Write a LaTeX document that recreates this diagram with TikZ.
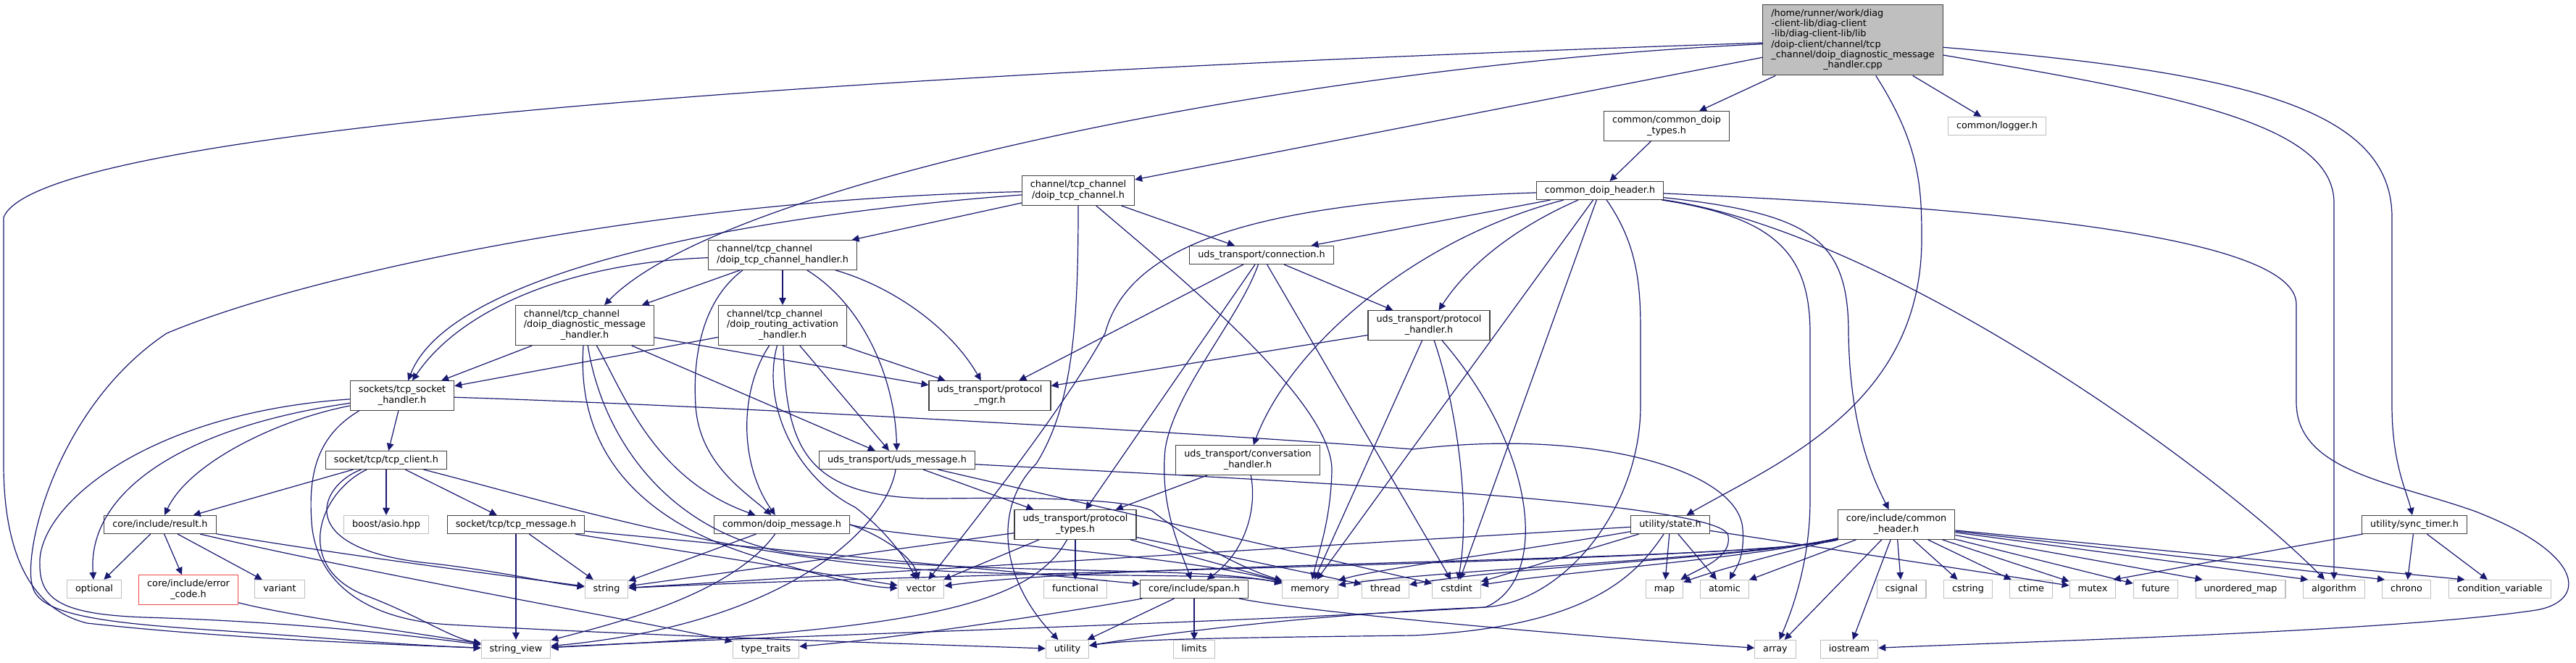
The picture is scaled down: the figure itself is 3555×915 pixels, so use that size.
\documentclass[tikz,border=0pt]{standalone}
\usepackage{fontspec}
\setmainfont{DejaVu Sans}
\usetikzlibrary{arrows.meta}

\definecolor{edgeblue}{HTML}{191970}
\definecolor{boxgray}{HTML}{BFBFBF}
\definecolor{boxdark}{HTML}{404040}
\definecolor{boxred}{HTML}{F04848}
\newcommand{\dxfont}{\fontsize{6.4}{7.15}\selectfont}
\newcommand{\ml}[2]{\begin{tabular}{@{}l@{}}#1\\\multicolumn{1}{@{}c@{}}{#2}\end{tabular}}

\tikzset{
  dxbox/.style={draw=boxdark,fill=white,line width=0.55pt,inner xsep=5.75pt,inner ysep=3pt,minimum height=12.5pt,font=\dxfont},
  hdr/.style={dxbox,text height=4.9pt,text depth=1.5pt},
  hdrml/.style={dxbox},
  sys/.style={hdr,draw=boxgray},
  rootf/.style={dxbox,fill=boxgray},
  trunc/.style={dxbox,draw=boxred},
  incl/.style={draw=edgeblue,line width=0.6pt,-{Triangle[length=5pt,width=4.8pt]}}
}

\begin{document}
\begin{tikzpicture}[x=0.5pt,y=-0.5pt]
\useasboundingbox (0,0) rectangle (3555,915);

% files
\node[rootf] (root) at (2557,55) {\begin{tabular}{@{}l@{}}/home/runner/work/diag\\-client-lib/diag-client\\-lib/diag-client-lib/lib\\/doip-client/channel/tcp\\\_channel/doip\_diagnostic\_message\\\multicolumn{1}{@{}c@{}}{\_handler.cpp}\end{tabular}};
\node[sys] (logger) at (2756,174) {common/logger.h};
\node[hdrml] (dtypes) at (2300,174) {\ml{common/common\_doip}{\_types.h}};
\node[hdr] (dheader) at (2208,263) {common\_doip\_header.h};
\node[hdrml] (tcpch) at (1488,263) {\ml{channel/tcp\_channel}{/doip\_tcp\_channel.h}};
\node[hdr] (conn) at (1741,352) {uds\_transport/connection.h};
\node[hdrml] (phandler) at (1972,449) {\ml{uds\_transport/protocol}{\_handler.h}};
\node[hdrml] (chhandler) at (1080,352) {\ml{channel/tcp\_channel}{/doip\_tcp\_channel\_handler.h}};
\node[hdrml] (diag) at (807,449) {\ml{channel/tcp\_channel\\/doip\_diagnostic\_message}{\_handler.h}};
\node[hdrml] (routing) at (1080,449) {\ml{channel/tcp\_channel\\/doip\_routing\_activation}{\_handler.h}};
\node[hdrml] (sockh) at (555,546) {\ml{sockets/tcp\_socket}{\_handler.h}};
\node[hdrml] (pmgr) at (1366,546) {\ml{uds\_transport/protocol}{\_mgr.h}};
\node[hdr] (tcpclient) at (533,635) {socket/tcp/tcp\_client.h};
\node[hdr] (udsmsg) at (1238,635) {uds\_transport/uds\_message.h};
\node[hdrml] (conv) at (1722,635) {\ml{uds\_transport/conversation}{\_handler.h}};
\node[hdr] (result) at (221,724) {core/include/result.h};
\node[sys] (asio) at (533,724) {boost/asio.hpp};
\node[hdr] (tcpmsg) at (712,724) {socket/tcp/tcp\_message.h};
\node[hdr] (doipmsg) at (1079,724) {common/doip\_message.h};
\node[hdrml] (ptypes) at (1484,724) {\ml{uds\_transport/protocol}{\_types.h}};
\node[hdr] (state) at (2305,724) {utility/state.h};
\node[hdrml] (cheader) at (2617,724) {\ml{core/include/common}{\_header.h}};
\node[hdr] (synctimer) at (3332,724) {utility/sync\_timer.h};

\node[sys] (optional) at (130,813) {optional};
\node[trunc] (errcode) at (260,814) {\ml{core/include/error}{\_code.h}};
\node[sys] (variant) at (386,813) {variant};
\node[sys] (string) at (837,813) {string};
\node[sys] (vector) at (1271,813) {vector};
\node[sys] (functional) at (1484,813) {functional};
\node[hdr] (span) at (1648,813) {core/include/span.h};
\node[sys] (memory) at (1808,813) {memory};
\node[sys] (thread) at (1912,813) {thread};
\node[sys] (cstdint) at (2010,813) {cstdint};
\node[sys] (map) at (2297,813) {map};
\node[sys] (atomic) at (2380,813) {atomic};
\node[sys] (csignal) at (2624,813) {csignal};
\node[sys] (cstring) at (2716,813) {cstring};
\node[sys] (ctime) at (2803,813) {ctime};
\node[sys] (mutex) at (2888,813) {mutex};
\node[sys] (future) at (2975,813) {future};
\node[sys] (umap) at (3092,813) {unordered\_map};
\node[sys] (algorithm) at (3221,813) {algorithm};
\node[sys] (chrono) at (3321,813) {chrono};
\node[sys] (condvar) at (3450,813) {condition\_variable};

\node[sys] (strview) at (712,896) {string\_view};
\node[sys] (typetraits) at (1057,896) {type\_traits};
\node[sys] (utility) at (1473,896) {utility};
\node[sys] (limits) at (1648,896) {limits};
\node[sys] (array) at (2450,896) {array};
\node[sys] (iostream) at (2552,896) {iostream};

% includes of the .cpp
\draw[incl] (root) -- (logger);
\draw[incl] (root) -- (dtypes);
\draw[incl] (root) -- (tcpch);
\draw[incl] (root) .. controls (1800,90) and (1000,250) .. (diag);
\draw[incl] (root) .. controls (2650,200) and (2652,260) .. (2652,330) .. controls (2652,560) and (2450,640) .. (state);
\draw[incl] (root) .. controls (3100,100) and (3301,150) .. (3301,300) -- (3301,560) .. controls (3301,640) and (3322,680) .. (synctimer);
\draw[incl] (root) .. controls (3000,130) and (3221,170) .. (3221,280) -- (algorithm);
\draw[incl] (root) .. controls (1500,90) and (60,160) .. (5,300) -- (5,640) .. controls (5,760) and (40,840) .. (120,860) .. controls (300,880) and (500,888) .. (strview);

% common headers
\draw[incl] (dtypes) -- (dheader);
\draw[incl] (dheader) -- (conn);
\draw[incl] (dheader) .. controls (2100,310) and (2030,360) .. (phandler);
\draw[incl] (dheader) .. controls (1950,330) and (1780,480) .. (conv);
\draw[incl] (dheader) .. controls (1750,278) and (1560,330) .. (1525,460) .. controls (1470,560) and (1360,700) .. (vector);
\draw[incl] (dheader) -- (memory);
\draw[incl] (dheader) -- (cstdint);
\draw[incl] (dheader) .. controls (2262,340) and (2264,400) .. (2264,460) -- (2264,560) .. controls (2264,700) and (2160,830) .. (2050,838) .. controls (1800,848) and (1580,878) .. (utility);
\draw[incl] (dheader) .. controls (2450,300) and (2498,350) .. (2498,460) -- (2498,690) .. controls (2498,780) and (2470,850) .. (array);
\draw[incl] (dheader) .. controls (2500,295) and (2551,330) .. (2551,460) .. controls (2553,600) and (2590,670) .. (cheader);
\draw[incl] (dheader) .. controls (2600,320) and (3050,640) .. (algorithm);
\draw[incl] (dheader) .. controls (2700,285) and (3169,320) .. (3169,420) -- (3169,555) .. controls (3169,650) and (3300,665) .. (3414,705) .. controls (3570,765) and (3570,830) .. (3500,842) .. controls (3300,872) and (2800,885) .. (iostream);

% tcp channel
\draw[incl] (tcpch) -- (chhandler);
\draw[incl] (tcpch) -- (conn);
\draw[incl] (tcpch) .. controls (1000,300) and (620,380) .. (sockh);
\draw[incl] (tcpch) .. controls (900,275) and (420,380) .. (230,460) .. controls (80,560) and (30,760) .. (45,810) .. controls (55,850) and (150,860) .. (300,870) .. controls (450,880) and (550,890) .. (strview);
\draw[incl] (tcpch) .. controls (1488,450) and (1480,560) .. (1430,640) .. controls (1370,700) and (1380,800) .. (utility);
\draw[incl] (tcpch) .. controls (1650,400) and (1840,560) .. (1838,650) .. controls (1836,720) and (1820,760) .. (memory);

% uds transport
\draw[incl] (conn) -- (pmgr);
\draw[incl] (conn) -- (ptypes);
\draw[incl] (conn) .. controls (1710,440) and (1620,540) .. (1608,620) .. controls (1600,700) and (1630,760) .. (span);
\draw[incl] (conn) -- (cstdint);
\draw[incl] (conn) -- (phandler);
\draw[incl] (phandler) -- (pmgr);
\draw[incl] (phandler) -- (memory);
\draw[incl] (phandler) .. controls (2010,560) and (2030,700) .. (cstdint);
\draw[incl] (phandler) .. controls (2120,620) and (2140,800) .. (2050,838) .. controls (1700,860) and (1000,880) .. (strview);

% channel handlers
\draw[incl] (chhandler) .. controls (800,362) and (640,420) .. (sockh);
\draw[incl] (chhandler) -- (diag);
\draw[incl] (chhandler) -- (routing);
\draw[incl] ([xshift=24pt]chhandler.south west) .. controls (975,410) and (955,480) .. (960,560) .. controls (965,640) and (1030,680) .. (doipmsg);
\draw[incl] (chhandler) .. controls (1190,420) and (1235,520) .. (udsmsg);
\draw[incl] (chhandler) .. controls (1230,395) and (1310,450) .. (pmgr);
\draw[incl] (diag) -- (sockh);
\draw[incl] (diag) .. controls (860,540) and (900,660) .. (doipmsg);
\draw[incl] (diag) -- (udsmsg);
\draw[incl] (diag) -- (pmgr);
\draw[incl] (diag) .. controls (795,620) and (880,720) .. (1050,770) .. controls (1150,800) and (1200,810) .. (vector);
\draw[incl] (diag) .. controls (830,600) and (920,740) .. (1100,765) .. controls (1350,795) and (1650,780) .. (memory);
\draw[incl] (routing) -- (sockh);
\draw[incl] (routing) .. controls (1020,540) and (1020,640) .. (doipmsg);
\draw[incl] (routing) .. controls (1050,560) and (1100,660) .. (1180,700) .. controls (1220,730) and (1250,770) .. (vector);
\draw[incl] (routing) .. controls (1085,620) and (1110,690) .. (1300,688) .. controls (1450,686) and (1560,690) .. (1590,705) .. controls (1620,730) and (1700,780) .. (memory);
\draw[incl] (routing) -- (udsmsg);
\draw[incl] (routing) -- (pmgr);

% sockets
\draw[incl] (sockh) -- (tcpclient);
\draw[incl] (sockh) .. controls (380,580) and (260,640) .. (result);
\draw[incl] (sockh) .. controls (250,590) and (120,680) .. (optional);
\draw[incl] (sockh) .. controls (200,570) and (50,700) .. (55,780) .. controls (55,830) and (90,848) .. (200,852) .. controls (400,858) and (550,875) .. (strview);
\draw[incl] (sockh) .. controls (1000,560) and (1700,600) .. (1950,620) .. controls (2200,590) and (2400,650) .. (2405,730) .. controls (2408,770) and (2395,785) .. (atomic);
\draw[incl] ([xshift=6.5pt]sockh.south west) .. controls (440,600) and (425,650) .. (430,720) .. controls (435,800) and (500,855) .. (620,862) .. controls (900,878) and (1300,890) .. (utility);
\draw[incl] (tcpclient) -- (result);
\draw[incl] (tcpclient) -- (asio);
\draw[incl] (tcpclient) -- (tcpmsg);
\draw[incl] (tcpclient) .. controls (440,670) and (400,760) .. (600,778) .. controls (700,790) and (760,805) .. (string);
\draw[incl] (tcpclient) .. controls (440,680) and (405,780) .. (500,820) .. controls (580,850) and (620,880) .. (strview);
\draw[incl] (tcpclient) .. controls (750,690) and (1000,770) .. (1300,788) .. controls (1500,798) and (1700,790) .. (memory);
\draw[incl] (tcpmsg) -- (strview);
\draw[incl] (tcpmsg) -- (string);
\draw[incl] (tcpmsg) -- (span);
\draw[incl] (tcpmsg) -- (vector);

% messages and types
\draw[incl] (doipmsg) -- (string);
\draw[incl] (doipmsg) .. controls (1010,820) and (850,860) .. (strview);
\draw[incl] (doipmsg.east) .. controls (1220,740) and (1260,770) .. (vector);
\draw[incl] (doipmsg.east) .. controls (1250,745) and (1600,760) .. (memory);
\draw[incl] (udsmsg) -- (ptypes);
\draw[incl] (udsmsg) .. controls (1225,720) and (1100,860) .. (strview);
\draw[incl] (udsmsg) .. controls (1700,660) and (2385,690) .. (2385,740) .. controls (2390,770) and (2345,785) .. (map);
\draw[incl] (udsmsg) -- (cstdint);
\draw[incl] (ptypes) -- (vector);
\draw[incl] (ptypes) -- (functional);
\draw[incl] (ptypes) .. controls (1420,840) and (1250,870) .. (strview);
\draw[incl] (ptypes) -- (memory);
\draw[incl] (ptypes) -- (string);
\draw[incl] (ptypes) -- (thread);
\draw[incl] (conv) -- (ptypes);
\draw[incl] (conv) .. controls (1735,700) and (1720,760) .. (span);
\draw[incl] (span) .. controls (1500,840) and (1250,880) .. (typetraits);
\draw[incl] (span) -- (utility);
\draw[incl] (span) -- (limits);
\draw[incl] (span) .. controls (1800,845) and (2200,880) .. (array);

% core and utility
\draw[incl] (result) -- (optional);
\draw[incl] (result) -- (errcode);
\draw[incl] (result) -- (variant);
\draw[incl] (result) .. controls (500,770) and (700,795) .. (string);
\draw[incl] (result) .. controls (500,790) and (900,860) .. (typetraits);
\draw[incl] (errcode) .. controls (400,850) and (550,870) .. (strview);
\draw[incl] (state) .. controls (2100,760) and (1900,785) .. (memory);
\draw[incl] (state) -- (string);
\draw[incl] (state) -- (cstdint);
\draw[incl] (state) .. controls (2260,790) and (2200,865) .. (1950,877) .. controls (1700,880) and (1560,882) .. (utility);
\draw[incl] (state) -- (map);
\draw[incl] (state) -- (atomic);
\draw[incl] (state) -- (mutex);
\draw[incl] (cheader) .. controls (2420,775) and (1550,775) .. (vector);
\draw[incl] (cheader) .. controls (2420,775) and (1300,790) .. (string);
\draw[incl] (cheader) .. controls (2420,770) and (2000,785) .. (memory);
\draw[incl] (cheader) .. controls (2420,770) and (2080,782) .. (thread);
\draw[incl] (cheader) .. controls (2420,770) and (2150,790) .. (cstdint);
\draw[incl] (cheader) .. controls (2430,770) and (2360,790) .. (map);
\draw[incl] (cheader) -- (atomic);
\draw[incl] (cheader) -- (array);
\draw[incl] (cheader) -- (iostream);
\draw[incl] (cheader) -- (csignal);
\draw[incl] (cheader) -- (cstring);
\draw[incl] (cheader) -- (ctime);
\draw[incl] (cheader) -- (mutex);
\draw[incl] (cheader) -- (future);
\draw[incl] (cheader) -- ([xshift=5pt]umap.north west);
\draw[incl] (cheader) -- ([xshift=3.5pt]algorithm.north west);
\draw[incl] (cheader) -- ([xshift=2pt]chrono.north west);
\draw[incl] (cheader) -- ([xshift=11pt]condvar.north west);
\draw[incl] (synctimer) -- ([xshift=-2pt]mutex.north east);
\draw[incl] (synctimer) -- (chrono);
\draw[incl] (synctimer) -- (condvar);
\end{tikzpicture}
\end{document}
